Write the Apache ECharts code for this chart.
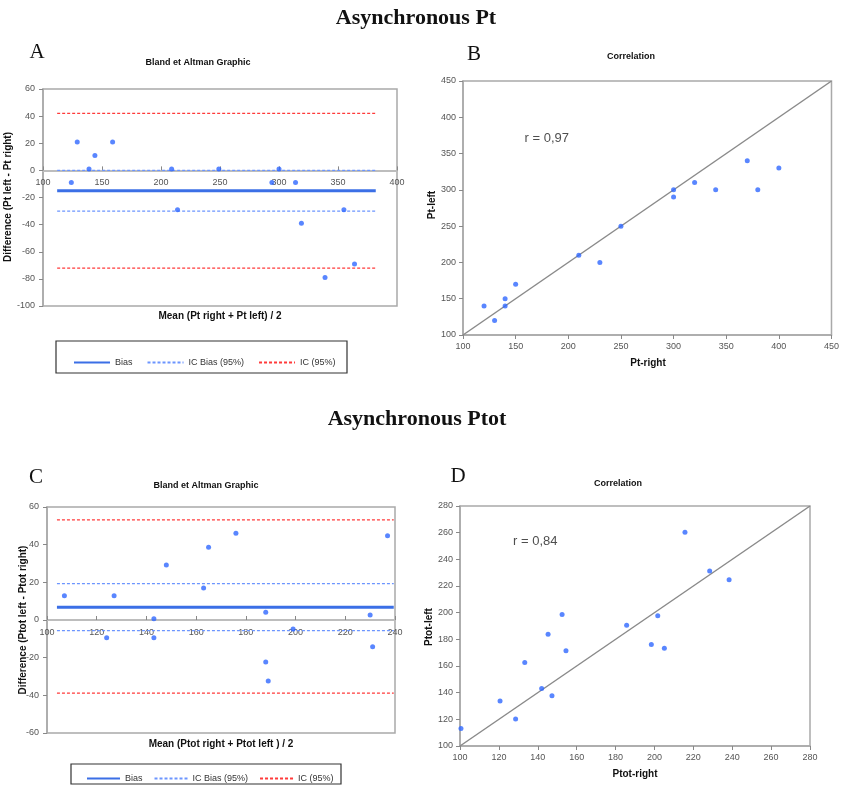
<!DOCTYPE html>
<html>
<head>
<meta charset="utf-8">
<script src="https://cdn.jsdelivr.net/npm/echarts@6/dist/echarts.min.js"></script>
<style>
html,body{margin:0;padding:0;background:#fff;}
#main{width:842px;height:792px;}
</style>
</head>
<body>
<div id="main"></div>
<script>
// ---------- Data ----------
// Panel A : Bland & Altman, Pt
const aMean = [129,124,139,144,159,209,214,249,294,300,314,319,339,355,364];
const aDiff = [21,-9,1,11,21,1,-29,1,-9,1,-9,-39,-79,-29,-69];
const aLineX = [112,382];
const aBias = -15;
const aIcBias = [0,-30];
const aIc = [42,-72];
// Panel B : Correlation, Pt
const bRight = [120,130,140,140,150,210,230,250,300,300,320,340,370,380,400];
const bLeft  = [140,120,150,140,170,210,200,250,300,290,310,300,340,300,330];
const bDiag = [100,450];
const bR = 'r = 0,97';
const bRPos = [158.5,371.5];
// Panel C : Bland & Altman, Ptot
const cMean = [107,124,127,143,143,148,163,165,176,188,188,189,199,230,231,237];
const cDiff = [12.9,-9.4,12.9,0.7,-9.4,29.2,17,38.6,46,4.1,-22.3,-32.4,-4.8,2.7,-14.2,44.8];
const cLineX = [104,239.5];
const cBias = 6.8;
const cIcBias = [19.3,-5.6];
const cIc = [53.2,-38.8];
// Panel D : Correlation, Ptot
const dRight = [100.5,120.6,128.6,133.3,142,145.3,147.3,152.5,154.5,185.7,198.4,201.7,205.1,215.7,228.4,238.4];
const dLeft  = [113.2,133.7,120.2,162.7,143.2,183.9,137.7,198.6,171.4,190.6,176.2,197.6,173.4,260.3,231.3,224.6];
const dDiag = [100,280];
const dR = 'r = 0,84';
const dRPos = [127.3,253.2];
// Axis ranges [min, max, interval]
const aXRange = [100,400,50], aYRange = [-100,60,20];
const bXRange = [100,450,50], bYRange = [100,450,50];
const cXRange = [100,240,20], cYRange = [-60,60,20];
const dXRange = [100,280,20], dYRange = [100,280,20];
// Legend names
const legendNames = ['Bias','IC Bias (95%)','IC (95%)'];

// ---------- Layout & styles ----------
const grids = [
  {left:43, top:89, width:354, height:217},
  {left:463, top:81, width:370, height:254},
  {left:47, top:507, width:348, height:226},
  {left:460, top:506, width:350, height:240}
];
const FONT = '"Liberation Sans", Arial, sans-serif';
const SERIF = '"Liberation Serif", "Times New Roman", serif';
const DOT = '#2f68ff';
const BIAS = '#3b6fe6';
const ICB = '#6c95ff';
const ICR = '#ff3b3b';
const GRIDC = '#a9a9a9';

function pts(xs, ys){ return xs.map((x,i)=>[x, ys[i]]); }
function hline(xr, y){ return [[xr[0], y],[xr[1], y]]; }

function lineSeries(name, idx, data, color, width, type){
  return {
    name, type:'line', xAxisIndex:idx, yAxisIndex:idx, data,
    symbol:'none', showSymbol:false, silent:true, animation:false, z:3,
    lineStyle:{color, width, type},
    itemStyle:{color}
  };
}
function scatterSeries(idx, data){
  return {type:'scatter', xAxisIndex:idx, yAxisIndex:idx, data, symbolSize:5,
    itemStyle:{color:DOT}, animation:false, z:5, silent:true};
}
function textSeries(idx, pos, txt){
  return {type:'scatter', xAxisIndex:idx, yAxisIndex:idx, data:[pos], symbolSize:0,
    silent:true, animation:false,
    label:{show:true, position:'right', distance:0, formatter:txt, fontSize:13, color:'#222', fontFamily:FONT}};
}

const tickLabel = {fontSize:9, color:'#555', fontFamily:FONT};

// Bland-Altman x axis drawn through y = 0
function baXAxis(idx, xr, yr){
  const zeroOffset = -(0 - yr[0]) / (yr[1] - yr[0]) * grids[idx].height;
  return {gridIndex:idx, type:'value', min:xr[0], max:xr[1], interval:xr[2],
    position:'bottom', offset:zeroOffset,
    axisLine:{show:true, onZero:false, lineStyle:{color:'#bdbdbd', width:2}},
    axisTick:{show:true, inside:true, length:4, lineStyle:{color:'#888'}},
    axisLabel:Object.assign({margin:8}, tickLabel),
    splitLine:{show:false}};
}
function baYAxis(idx, yr){
  return {gridIndex:idx, type:'value', min:yr[0], max:yr[1], interval:yr[2],
    axisLine:{show:true, lineStyle:{color:GRIDC, width:1.5}},
    axisTick:{show:true, length:4, lineStyle:{color:'#888'}},
    axisLabel:Object.assign({margin:8}, tickLabel),
    splitLine:{show:false}};
}
function corAxis(idx, r){
  return {gridIndex:idx, type:'value', min:r[0], max:r[1], interval:r[2],
    axisLine:{show:true, onZero:false, lineStyle:{color:GRIDC, width:1.5}},
    axisTick:{show:true, length:4, lineStyle:{color:'#888'}},
    axisLabel:Object.assign({margin:7}, tickLabel),
    splitLine:{show:false}};
}

function txt(text, x, y, size, weight, family, rot){
  return {type:'text', x, y, rotation:rot||0, z:10, silent:true,
    style:{text, fontSize:size, fontWeight:weight||'normal', fontFamily:family||FONT,
      fill:'#111', align:'center', verticalAlign:'middle'}};
}

const option = {
  backgroundColor:'#fff',
  animation:false,
  grid:grids.map(g=>Object.assign({show:true, borderColor:GRIDC, borderWidth:1.5}, g)),
  xAxis:[
    baXAxis(0,aXRange,aYRange),
    corAxis(1,bXRange),
    baXAxis(2,cXRange,cYRange),
    corAxis(3,dXRange)
  ],
  yAxis:[
    baYAxis(0,aYRange),
    corAxis(1,bYRange),
    baYAxis(2,cYRange),
    corAxis(3,dYRange)
  ],
  legend:[
    {left:68, top:353, itemWidth:36, itemHeight:10, itemGap:14, data:legendNames,
     selectedMode:false, itemStyle:{opacity:0},
     textStyle:{fontSize:9, color:'#333', fontFamily:FONT}},
    {left:81, top:769, itemWidth:33, itemHeight:10, itemGap:11, data:legendNames,
     selectedMode:false, itemStyle:{opacity:0},
     textStyle:{fontSize:9, color:'#333', fontFamily:FONT}}
  ],
  series:[
    // A
    lineSeries('IC (95%)',0,hline(aLineX,aIc[0]),ICR,1.3,[3,2]),
    lineSeries('IC (95%)',0,hline(aLineX,aIc[1]),ICR,1.3,[3,2]),
    lineSeries('IC Bias (95%)',0,hline(aLineX,aIcBias[0]),ICB,1.3,[3,2]),
    lineSeries('IC Bias (95%)',0,hline(aLineX,aIcBias[1]),ICB,1.3,[3,2]),
    lineSeries('Bias',0,hline(aLineX,aBias),BIAS,3,'solid'),
    scatterSeries(0, pts(aMean,aDiff)),
    // B
    Object.assign(lineSeries('diagB',1,[[bDiag[0],bDiag[0]],[bDiag[1],bDiag[1]]],'#8a8a8a',1.5,'solid'),{z:2}),
    scatterSeries(1, pts(bRight,bLeft)),
    textSeries(1, bRPos, bR),
    // C
    lineSeries('IC (95%)',2,hline(cLineX,cIc[0]),ICR,1.3,[3,2]),
    lineSeries('IC (95%)',2,hline(cLineX,cIc[1]),ICR,1.3,[3,2]),
    lineSeries('IC Bias (95%)',2,hline(cLineX,cIcBias[0]),ICB,1.3,[3,2]),
    lineSeries('IC Bias (95%)',2,hline(cLineX,cIcBias[1]),ICB,1.3,[3,2]),
    lineSeries('Bias',2,hline(cLineX,cBias),BIAS,3,'solid'),
    scatterSeries(2, pts(cMean,cDiff)),
    // D
    Object.assign(lineSeries('diagD',3,[[dDiag[0],dDiag[0]],[dDiag[1],dDiag[1]]],'#8a8a8a',1.5,'solid'),{z:2}),
    scatterSeries(3, pts(dRight,dLeft)),
    textSeries(3, dRPos, dR)
  ],
  graphic:[
    txt('Asynchronous Pt', 416, 18, 22, 'bold', SERIF),
    txt('Asynchronous Ptot', 417, 419, 22, 'bold', SERIF),
    txt('A', 37, 52, 21, 'normal', SERIF),
    txt('B', 474, 54, 21, 'normal', SERIF),
    txt('C', 36, 477, 21, 'normal', SERIF),
    txt('D', 458, 476, 21, 'normal', SERIF),
    txt('Bland et Altman Graphic', 198, 63, 9, 'bold'),
    txt('Bland et Altman Graphic', 206, 485.5, 9, 'bold'),
    txt('Correlation', 631, 57, 9, 'bold'),
    txt('Correlation', 618, 484, 9, 'bold'),
    txt('Mean (Pt right + Pt left) / 2', 220, 316, 10, 'bold'),
    txt('Mean (Ptot right + Ptot left ) / 2', 221, 744, 10, 'bold'),
    txt('Pt-right', 648, 363, 10, 'bold'),
    txt('Ptot-right', 635, 774, 10, 'bold'),
    txt('Difference (Pt left - Pt right)', 8, 197, 10, 'bold', FONT, Math.PI/2),
    txt('Difference (Ptot left - Ptot right)', 23, 620, 10, 'bold', FONT, Math.PI/2),
    txt('Pt-left', 432, 205, 10, 'bold', FONT, Math.PI/2),
    txt('Ptot-left', 429, 627, 10, 'bold', FONT, Math.PI/2),
    {type:'rect', shape:{x:56, y:341, width:291, height:32}, z:1, silent:true,
     style:{fill:'none', stroke:'#333', lineWidth:1.2}},
    {type:'rect', shape:{x:71, y:764, width:270, height:20}, z:1, silent:true,
     style:{fill:'none', stroke:'#333', lineWidth:1.2}}
  ]
};

const chart = echarts.init(document.getElementById('main'), null, {renderer:'canvas'});
chart.setOption(option);
</script>
</body>
</html>
